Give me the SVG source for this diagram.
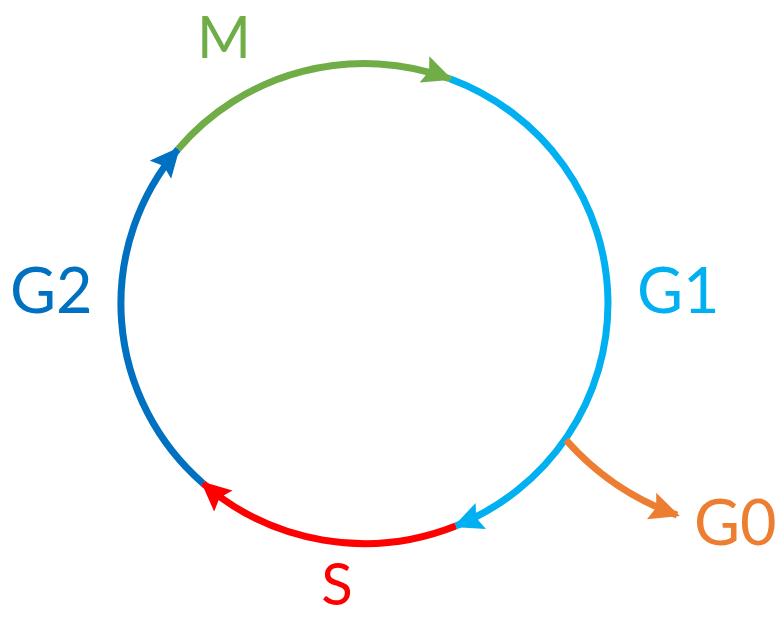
<svg xmlns="http://www.w3.org/2000/svg" width="784" height="618" viewBox="0 0 784 618">
<style>
.arc{fill:none;stroke-width:7;}
.lbl{font-family:Lato,"Open Sans","Liberation Sans",sans-serif;font-size:63px;}
</style>
<defs>
<path id="ah" d="M0,0 L30,14 L0,28 L5,14 Z"/>
<marker id="aG" markerUnits="userSpaceOnUse" markerWidth="34" markerHeight="30" refX="27" refY="14" orient="auto"><use href="#ah" fill="#70AD47"/></marker>
<marker id="aL" markerUnits="userSpaceOnUse" markerWidth="34" markerHeight="30" refX="27" refY="14" orient="auto"><use href="#ah" fill="#00B0F0"/></marker>
<marker id="aR" markerUnits="userSpaceOnUse" markerWidth="34" markerHeight="30" refX="27" refY="14" orient="auto"><use href="#ah" fill="#FF0000"/></marker>
<marker id="aB" markerUnits="userSpaceOnUse" markerWidth="34" markerHeight="30" refX="27" refY="14" orient="auto"><use href="#ah" fill="#0070C0"/></marker>
<marker id="aO" markerUnits="userSpaceOnUse" markerWidth="34" markerHeight="30" refX="27" refY="14" orient="auto"><use href="#ah" fill="#ED7D31"/></marker>
</defs>
<rect width="784" height="618" fill="#fff"/>
<g id="connectors">
<path id="arc-G1" class="arc" stroke="#00B0F0" d="M449.8,78.7 A243.5,240 0 0 1 455.7,526" marker-end="url(#aL)"/>
<path id="arc-S" class="arc" stroke="#FF0000" d="M455.7,526 A243.5,240 0 0 1 203,483.3" marker-end="url(#aR)"/>
<path id="arc-G2" class="arc" stroke="#0070C0" d="M203,483.3 A243.5,240 0 0 1 178,149.2" marker-end="url(#aB)"/>
<path id="arc-M" class="arc" stroke="#70AD47" d="M178,149.2 A243.5,240 0 0 1 449.8,78.7" marker-end="url(#aG)"/>
<path id="arc-G0" class="arc" stroke="#ED7D31" stroke-width="8" d="M566,440 Q612,492 677,515" marker-end="url(#aO)"/>
</g>
<g id="M"><text class="lbl" x="224" y="58" text-anchor="middle" fill="#70AD47" style="font-size:58px">M</text></g>
<g id="G1"><text class="lbl" x="637" y="313" fill="#00B0F0">G1</text></g>
<g id="S"><text class="lbl" x="337" y="605" text-anchor="middle" fill="#FF0000" style="font-size:58px">S</text></g>
<g id="G2"><text class="lbl" x="10" y="313" fill="#0070C0">G2</text></g>
<g id="G0"><text class="lbl" x="694" y="545" fill="#ED7D31">G0</text></g>
</svg>
